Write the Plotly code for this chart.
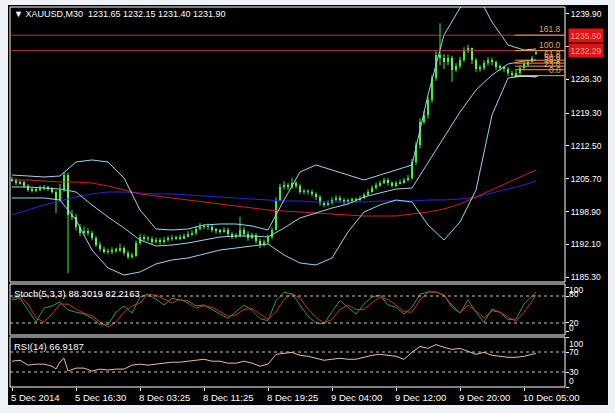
import plotly.graph_objects as go

# ---------------- data ----------------
bar_index = list(range(132))
bar_open = [1205.6,1205.4,1204.8,1205.0,1204.2,1203.4,1203.2,1203.4,1203.8,1203.8,
            1203.6,1203.0,1201.3,1203.4,1206.5,1198.2,1197.8,1195.7,1194.4,1194.9,
            1194.4,1193.4,1192.0,1191.1,1190.7,1190.5,1190.9,1190.9,1191.3,1190.3,
            1189.5,1189.7,1192.4,1193.6,1193.4,1193.2,1192.6,1193.0,1192.6,1193.0,
            1193.2,1193.4,1193.4,1193.4,1193.8,1194.2,1194.4,1195.3,1195.7,1195.7,
            1195.7,1195.1,1194.9,1194.7,1195.1,1194.2,1193.8,1193.8,1195.1,1194.2,
            1193.4,1194.0,1192.8,1192.0,1192.6,1193.6,1195.1,1201.3,1204.0,1204.4,
            1204.0,1204.8,1204.2,1203.0,1203.0,1203.0,1202.5,1201.9,1200.7,1200.3,
            1200.7,1201.3,1201.7,1201.3,1200.9,1201.1,1201.3,1201.3,1201.7,1202.3,
            1203.0,1203.8,1204.4,1204.8,1205.4,1204.8,1204.4,1204.8,1205.0,1205.4,
            1205.9,1209.2,1212.7,1217.5,1218.9,1222.1,1226.6,1231.4,1230.8,1229.9,
            1230.8,1228.3,1229.1,1230.4,1232.4,1232.8,1230.4,1228.5,1228.7,1229.7,
            1230.4,1229.9,1228.9,1228.7,1228.5,1227.7,1227.2,1227.7,1228.7,1229.5,
            1229.9,1231.65]
bar_high = [1206.1,1205.8,1205.5,1205.3,1204.6,1203.9,1203.8,1204.3,1204.4,1204.2,
            1203.9,1203.3,1204.6,1207.1,1206.9,1199.2,1198.4,1196.3,1195.8,1195.4,
            1194.9,1193.8,1192.6,1191.6,1191.2,1191.5,1191.4,1192.2,1191.7,1190.8,
            1190.4,1192.9,1194.2,1194.1,1193.8,1193.7,1193.5,1193.4,1193.6,1193.8,
            1194.0,1193.9,1194.1,1194.3,1194.8,1195.0,1195.8,1196.5,1196.2,1196.4,
            1196.1,1195.5,1195.3,1195.6,1195.5,1194.6,1194.4,1197.8,1195.6,1194.8,
            1194.5,1194.4,1193.3,1193.1,1194.1,1195.6,1201.8,1204.6,1205.2,1204.8,
            1205.9,1205.2,1204.6,1203.6,1203.5,1203.4,1202.9,1202.3,1201.0,1201.2,
            1201.8,1202.3,1202.2,1201.7,1201.6,1201.8,1201.8,1202.2,1202.8,1203.5,
            1204.3,1204.9,1205.3,1205.9,1205.8,1205.2,1205.3,1205.6,1205.9,1206.5,
            1209.8,1213.4,1218.2,1219.8,1222.7,1227.3,1232.3,1238.0,1231.6,1231.5,
            1231.2,1229.7,1231.0,1233.0,1233.5,1232.9,1230.8,1229.3,1230.3,1231.0,
            1230.8,1230.2,1229.4,1229.1,1228.9,1228.1,1228.2,1229.2,1230.0,1230.4,
            1231.2,1232.15]
bar_low = [1205.0,1204.4,1204.5,1203.8,1203.0,1202.8,1202.9,1203.1,1203.3,1203.2,
           1202.6,1198.6,1201.0,1203.0,1186.1,1197.1,1195.0,1193.8,1194.0,1193.9,
           1192.9,1191.5,1190.6,1190.2,1190.0,1190.1,1190.3,1190.6,1189.8,1189.0,
           1189.1,1189.5,1192.0,1192.8,1192.7,1192.1,1192.3,1192.0,1192.2,1192.6,
           1192.8,1193.0,1192.9,1193.2,1193.6,1193.9,1194.0,1195.0,1195.2,1195.1,
           1194.6,1194.3,1194.2,1194.5,1193.6,1193.2,1193.3,1193.5,1193.7,1192.8,
           1193.2,1192.2,1191.3,1191.6,1192.2,1193.2,1195.0,1200.9,1203.5,1203.4,
           1203.6,1203.7,1202.5,1202.5,1202.4,1202.0,1201.3,1200.1,1199.8,1200.0,
           1200.3,1201.0,1200.8,1200.4,1200.5,1200.8,1200.7,1201.0,1201.5,1202.1,
           1202.8,1203.5,1204.1,1204.6,1204.3,1203.9,1204.0,1204.5,1204.7,1205.1,
           1205.5,1208.5,1212.0,1217.0,1218.2,1221.5,1226.0,1229.2,1228.5,1229.2,
           1225.8,1227.8,1228.5,1229.9,1231.8,1229.5,1227.9,1227.9,1228.2,1229.2,
           1229.2,1228.3,1228.1,1227.9,1227.1,1226.6,1226.9,1227.3,1228.2,1229.0,
           1230.0,1231.40]
bar_close = [1205.4,1204.8,1205.0,1204.2,1203.4,1203.2,1203.4,1203.8,1203.8,1203.6,
             1203.0,1201.3,1203.4,1206.5,1198.2,1197.8,1195.7,1194.4,1194.9,1194.4,
             1193.4,1192.0,1191.1,1190.7,1190.5,1190.9,1190.9,1191.3,1190.3,1189.5,
             1189.7,1192.4,1193.6,1193.4,1193.2,1192.6,1193.0,1192.6,1193.0,1193.2,
             1193.4,1193.4,1193.4,1193.8,1194.2,1194.4,1195.3,1195.7,1195.7,1195.7,
             1195.1,1194.9,1194.7,1195.1,1194.2,1193.8,1193.8,1195.1,1194.2,1193.4,
             1194.0,1192.8,1192.0,1192.6,1193.6,1195.1,1201.3,1204.0,1204.4,1204.0,
             1204.8,1204.2,1203.0,1203.0,1203.0,1202.5,1201.9,1200.7,1200.3,1200.7,
             1201.3,1201.7,1201.3,1200.9,1201.1,1201.3,1201.3,1201.7,1202.3,1203.0,
             1203.8,1204.4,1204.8,1205.4,1204.8,1204.4,1204.8,1205.0,1205.4,1205.9,
             1209.2,1212.7,1217.5,1218.9,1222.1,1226.6,1231.4,1230.8,1229.9,1230.8,
             1228.3,1229.1,1230.4,1232.4,1232.8,1230.4,1228.5,1228.7,1229.7,1230.4,
             1229.9,1228.9,1228.7,1228.5,1227.7,1227.2,1227.7,1228.7,1229.5,1229.9,
             1230.8,1231.90]

ind_idx = [0,4,8,12,16,20,24,28,32,36,40,44,48,52,56,60,64,68,72,76,80,84,88,92,96,
           100,104,108,112,116,120,124,128,131]
bb_upper = [1206.48,1206.27,1206.07,1206.27,1209.18,1209.60,1209.18,1205.86,1199.22,1195.27,
            1195.07,1195.27,1196.10,1196.31,1196.31,1195.90,1195.07,1201.29,1207.10,1208.56,
            1207.52,1206.48,1205.44,1206.48,1207.52,1208.56,1223.09,1235.54,1241.15,1244.47,
            1238.24,1233.47,1232.43,1232.64]
bb_middle = [1203.99,1203.99,1203.78,1203.57,1202.95,1200.25,1197.76,1195.48,1192.99,1191.74,
             1191.95,1192.37,1192.99,1193.61,1193.82,1193.82,1193.61,1195.48,1197.56,1198.59,
             1199.63,1200.46,1201.92,1202.75,1203.57,1203.78,1208.97,1214.16,1219.56,1224.12,
             1227.24,1229.52,1230.14,1230.35]
bb_lower = [1201.71,1201.71,1201.71,1201.29,1197.14,1190.91,1187.18,1185.72,1186.35,1188.01,
            1188.84,1189.25,1190.08,1190.91,1191.33,1191.74,1192.16,1189.88,1188.22,1187.80,
            1189.25,1194.65,1198.80,1200.25,1201.29,1200.88,1196.10,1192.99,1196.73,1203.37,
            1218.94,1226.62,1227.03,1226.82]
ma_red = [1205.44,1205.44,1205.24,1205.03,1205.03,1204.82,1204.20,1203.37,1202.54,1202.12,
          1201.71,1201.29,1200.88,1200.46,1200.05,1199.63,1199.22,1199.01,1198.80,1198.59,
          1198.39,1198.18,1197.97,1197.97,1197.97,1198.39,1198.80,1199.42,1200.46,1201.92,
          1203.37,1204.82,1206.27,1207.52]
ma_blue = [1198.18,1199.22,1200.25,1201.08,1201.92,1202.54,1202.95,1202.95,1202.75,1202.54,
           1202.54,1202.33,1202.12,1201.92,1201.71,1201.50,1201.29,1201.08,1201.08,1200.88,
           1200.88,1200.88,1200.88,1201.08,1201.08,1201.08,1201.29,1201.29,1201.50,1201.92,
           1202.75,1203.57,1204.41,1205.24]

osc_idx = [0,2,4,6,8,10,12,14,16,18,20,22,24,26,28,30,32,34,36,38,40,42,44,46,48,50,
           52,54,56,58,60,62,64,66,68,70,72,74,76,78,80,82,84,86,88,90,92,94,96,98,100,
           102,104,106,108,110,112,114,116,118,120,122,124,126,128,130,131]
stoch_main = [71,75,49,22,53,58,67,49,44,40,
              31,16,16,44,58,42,78,84,73,60,
              75,71,69,58,60,50,40,30,45,60,
              48,30,25,70,88,85,60,35,20,18,
              45,70,55,40,62,78,82,60,55,40,
              55,84,89,89,82,55,42,71,44,22,
              51,44,27,29,62,80,88.3019]
stoch_signal = [75.5,78,62,31,22,40,62,62,51,42,
                36,22,11,22,44,58,64,84,82,73,
                64,73,64,53,58,55,45,35,38,50,
                52,40,28,45,72,85,75,52,32,20,
                28,50,60,50,50,65,78,72,60,45,
                44,71,89,89,82,60,42,60,47,31,
                47,44,33,24,44,69,82.2163]
rsi_idx = [0,2,4,6,8,10,11,12,13,14,16,18,20,22,24,26,28,30,32,34,36,38,40,42,44,46,48,
           50,52,54,56,58,60,62,64,66,68,70,72,74,76,78,80,82,84,86,88,90,92,94,96,98,
           100,102,104,106,108,110,112,114,116,118,120,122,124,126,128,130,131]
rsi_vals = [51.6,53.5,43.7,45.7,45.7,41.7,36.0,50.0,57.5,32.0,37.8,37.8,32.0,35.8,33.9,35.8,
            35.8,43.7,45.7,43.7,45.7,47.6,49.6,49.6,51.6,53.5,55.5,
            51.6,51.6,47.6,47.6,51.6,47.6,41.7,45.7,65.4,67.3,69.3,63.4,61.4,57.5,53.5,
            55.5,57.5,55.5,55.5,59.4,63.4,65.4,63.4,61.4,55.5,
            69.3,81.1,77.2,85.0,79.1,75.2,77.2,71.3,65.4,69.3,63.4,61.4,59.4,59.4,61.4,65.4,66.9187]

price_ticks = [1185.30, 1192.10, 1198.90, 1205.70, 1212.50, 1219.30, 1226.30, 1233.10, 1239.90]
time_tick_idx = [0, 16, 32, 48, 64, 80, 96, 112, 128]
time_tick_labels = ["5 Dec 2014", "5 Dec 16:30", "8 Dec 03:25", "8 Dec 11:25", "8 Dec 19:25",
                    "9 Dec 04:00", "9 Dec 12:00", "9 Dec 20:00", "10 Dec 05:00"]
fib_names = ["0.0", "23.6", "38.2", "50.0", "61.8", "100.0", "161.8"]
fib_prices = [1227.10, 1228.33, 1229.08, 1229.70, 1230.31, 1232.29, 1235.50]
hline_prices = [1235.50, 1232.29]
hline_labels = ["1235.50", "1232.29"]
stoch_levels = [20, 80]
rsi_levels = [30, 70]
stoch_axis_labels = ["100", "80", "20", "0"]
rsi_axis_labels = ["100", "70", "30", "0"]

# ---------------- layout helpers (pixel -> paper) ----------------
W, H = 615, 413
def fx(p): return p / W
def fy(p): return 1 - p / H

FONT = "Liberation Sans, Arial, DejaVu Sans, sans-serif"
GREEN = "#3cf03c"
BB = "#96d6ee"

fig = go.Figure()

# candles: wicks + bodies
wick_x, wick_y = [], []
for i, lo, hi in zip(bar_index, bar_low, bar_high):
    wick_x += [i, i, None]
    wick_y += [lo, hi, None]
fig.add_trace(go.Scatter(x=wick_x, y=wick_y, mode="lines", line=dict(color=GREEN, width=1),
                         showlegend=False, xaxis="x", yaxis="y", hoverinfo="skip"))
body_base = [min(o, c) for o, c in zip(bar_open, bar_close)]
body_len = [max(abs(c - o), 0.12) for o, c in zip(bar_open, bar_close)]
body_col = [GREEN if c >= o else "#7cf87c" for o, c in zip(bar_open, bar_close)]
fig.add_trace(go.Bar(x=bar_index, y=body_len, base=body_base, width=0.62,
                     marker=dict(color=body_col, line=dict(width=0)),
                     showlegend=False, xaxis="x", yaxis="y"))

for ys, col in [(ma_blue, "#2828d8"), (ma_red, "#d02020"),
                (bb_upper, BB), (bb_middle, BB), (bb_lower, BB)]:
    fig.add_trace(go.Scatter(x=ind_idx, y=ys, mode="lines", line=dict(color=col, width=1),
                             showlegend=False, xaxis="x", yaxis="y"))

fig.add_trace(go.Scatter(x=osc_idx, y=stoch_main, mode="lines",
                         line=dict(color="#2e9e50", width=1), showlegend=False,
                         xaxis="x2", yaxis="y2"))
fig.add_trace(go.Scatter(x=osc_idx, y=stoch_signal, mode="lines",
                         line=dict(color="#d03028", width=1), showlegend=False,
                         xaxis="x2", yaxis="y2"))
fig.add_trace(go.Scatter(x=rsi_idx, y=rsi_vals, mode="lines",
                         line=dict(color="#e8bc9c", width=1), showlegend=False,
                         xaxis="x3", yaxis="y3"))

XR = [-0.5, 138.25]
xa = dict(range=XR, showgrid=False, zeroline=False, showticklabels=False, ticks="",
          showline=False, fixedrange=True)
main_dom = [fy(282), fy(7)]
st_dom = [fy(335), fy(284)]
rsi_dom = [fy(387), fy(337)]
xdom = [fx(10), fx(565)]

shapes = []
shapes.append(dict(type="rect", xref="paper", yref="paper", x0=fx(8), x1=fx(608),
                   y0=fy(405), y1=fy(5), fillcolor="black", line=dict(width=0), layer="below"))
for t, b in [(7, 282), (284, 335), (337, 387)]:
    shapes.append(dict(type="rect", xref="paper", yref="paper", x0=fx(10), x1=fx(565),
                       y0=fy(b), y1=fy(t), line=dict(color="white", width=1),
                       fillcolor="rgba(0,0,0,0)", layer="above"))
for p in hline_prices:
    shapes.append(dict(type="line", xref="x", yref="y", x0=XR[0], x1=XR[1], y0=p, y1=p,
                       line=dict(color="#c0304a", width=1)))
for p in fib_prices:
    shapes.append(dict(type="line", xref="x", yref="y", x0=125.75, x1=XR[1], y0=p, y1=p,
                       line=dict(color="#f39a3c", width=1)))
shapes.append(dict(type="line", xref="x", yref="y", x0=125.5, x1=131.5,
                   y0=fib_prices[0] - 0.12, y1=fib_prices[0] - 0.12,
                   line=dict(color="#d8e8d8", width=1)))
for lv in stoch_levels:
    shapes.append(dict(type="line", xref="x2", yref="y2", x0=XR[0], x1=XR[1], y0=lv, y1=lv,
                       line=dict(color="#c8c8c8", width=1, dash="3px,3px")))
for lv in rsi_levels:
    shapes.append(dict(type="line", xref="x3", yref="y3", x0=XR[0], x1=XR[1], y0=lv, y1=lv,
                       line=dict(color="#c8c8c8", width=1, dash="3px,3px")))

ann = []
def txt(x, y, s, color="white", size=9.5, xanchor="left", **kw):
    d = dict(x=x, y=y, text=s, showarrow=False, xanchor=xanchor, yanchor="middle",
             font=dict(family=FONT, size=size, color=color))
    d.update(kw)
    ann.append(d)

txt(fx(12), fy(14), "▼ XAUUSD,M30  1231.65 1232.15 1231.40 1231.90", size=9,
    xref="paper", yref="paper")
txt(fx(12), fy(293), "Stoch(5,3,3) 88.3019 82.2163", xref="paper", yref="paper")
txt(fx(12), fy(346), "RSI(14) 66.9187", xref="paper", yref="paper")

for name, p in zip(fib_names, fib_prices):
    txt(fx(563), p, name, color="#e8a46c", size=8.5, xanchor="right", xref="paper", yref="y",
        yanchor="bottom", yshift=-1)

for lab, p in zip(hline_labels, hline_prices):
    txt(fx(568), p, lab, color="#ff9c9c", size=8.5, xref="paper", yref="y",
        bgcolor="#e01414", borderpad=1.5)

for lab, py_ in zip(stoch_axis_labels, [290, 294, 323, 328]):
    txt(fx(567), fy(py_), lab, size=8.5, xref="paper", yref="paper")
for lab, py_ in zip(rsi_axis_labels, [344, 352, 372, 381]):
    txt(fx(567), fy(py_), lab, size=8.5, xref="paper", yref="paper")

for i, lab in zip(time_tick_idx, time_tick_labels):
    txt(i, fy(397), lab, xref="x3", yref="paper", xshift=-3)

fig.update_layout(
    width=W, height=H, margin=dict(l=0, r=0, t=0, b=0),
    paper_bgcolor="#eef1f6", plot_bgcolor="black",
    showlegend=False, dragmode=False, bargap=0,
    xaxis=dict(xa, domain=xdom, anchor="y"),
    xaxis2=dict(xa, domain=xdom, anchor="y2", matches="x"),
    xaxis3=dict(xa, domain=xdom, anchor="y3", matches="x", tickvals=time_tick_idx,
                ticks="outside", ticklen=3, tickcolor="white", tickwidth=1),
    yaxis=dict(domain=main_dom, range=[1184.27, 1241.35], side="right", showgrid=False,
               zeroline=False, tickvals=price_ticks, ticktext=[f"{v:.2f}" for v in price_ticks],
               ticks="outside", ticklen=3, tickcolor="white",
               tickfont=dict(family=FONT, size=8.5, color="white"), fixedrange=True),
    yaxis2=dict(domain=st_dom, range=[-6.7, 106.7], side="right", showgrid=False,
                zeroline=False, tickvals=[0, 20, 80, 100], showticklabels=False,
                ticks="outside", ticklen=3, tickcolor="white", fixedrange=True),
    yaxis3=dict(domain=rsi_dom, range=[0, 100], side="right", showgrid=False,
                zeroline=False, tickvals=[0, 30, 70, 100], showticklabels=False,
                ticks="outside", ticklen=3, tickcolor="white", fixedrange=True),
    shapes=shapes, annotations=ann,
)

fig.write_html("out.html", config={"displayModeBar": False},
               post_script="document.body.style.margin='0px';"
                           "document.body.style.background='#eef1f6';")
